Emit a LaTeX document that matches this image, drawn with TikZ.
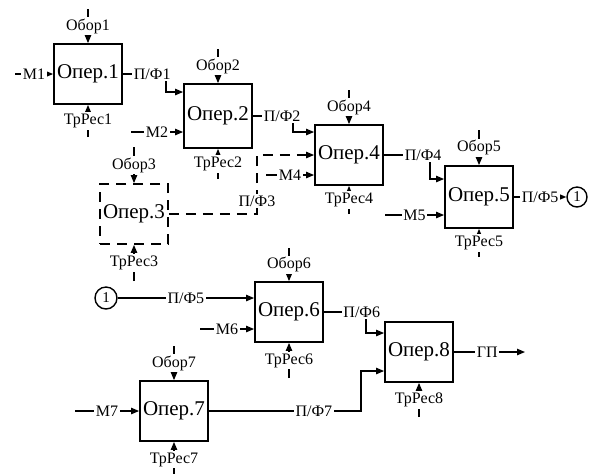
\documentclass[tikz,border=0pt]{standalone}
\usepackage{fontspec}
\setmainfont{Liberation Serif}
\usetikzlibrary{arrows.meta}

\begin{document}
\begin{tikzpicture}[x=0.5pt, y=-0.5pt, >={Triangle[length=4pt,width=3.2pt]},
    op/.style={draw, line width=0.9pt, minimum width=34pt, minimum height=30pt, inner sep=0pt, font=\fontsize{10.5}{12}\selectfont},
    lbl/.style={fill=white, inner sep=0.8pt, font=\fontsize{8}{9}\selectfont},
    link/.style={->, line width=0.6pt},
    joint/.style={circle, draw, line width=0.7pt, inner sep=0pt, minimum size=10pt, font=\fontsize{7.5}{8}\selectfont},
    dsh/.style={dash pattern=on 5pt off 3.5pt}]
    \useasboundingbox (0,0) rectangle (594,473);

    % 1. Operation boxes
    \node[op] (op1) at (88,74) {Опер.1};
    \node[op, minimum height=32pt] (op2) at (218,116) {Опер.2};
    \node[op, dsh] (op3) at (134,214) {Опер.3};
    \node[op] (op4) at (349,155) {Опер.4};
    \node[op, minimum height=31pt] (op5) at (479,197) {Опер.5};
    \node[op] (op6) at (289,312) {Опер.6};
    \node[op] (op7) at (174,411) {Опер.7};
    \node[op] (op8) at (419,352) {Опер.8};

    % 2. Equipment (top inputs)
    \coordinate (ob1) at (88,9);
    \coordinate (ob2) at (218,49);
    \coordinate (ob3) at (134,147);
    \coordinate (ob4) at (349,90);
    \coordinate (ob5) at (479,130);
    \coordinate (ob6) at (289,248);
    \coordinate (ob7) at (174,346);
    \draw[link] (ob1) -- node[lbl]{Обор1} (op1);
    \draw[link] (ob2) -- node[lbl]{Обор2} (op2);
    \draw[link] (ob3) -- node[lbl]{Обор3} (op3);
    \draw[link] (ob4) -- node[lbl]{Обор4} (op4);
    \draw[link] (ob5) -- node[lbl]{Обор5} (op5);
    \draw[link] (ob6) -- node[lbl]{Обор6} (op6);
    \draw[link] (ob7) -- node[lbl]{Обор7} (op7);

    % 3. Transport resources (bottom inputs)
    \coordinate (tr1) at (88,137);
    \coordinate (tr2) at (218,179);
    \coordinate (tr3) at (134,281);
    \coordinate (tr4) at (349,214);
    \coordinate (tr5) at (479,257);
    \coordinate (tr6) at (289,378);
    \coordinate (tr7) at (174,477);
    \coordinate (tr8) at (419,417);
    \draw[link] (tr1) -- node[lbl]{ТрРес1} (op1);
    \draw[link] (tr2) -- node[lbl]{ТрРес2} (op2);
    \draw[link] (tr3) -- node[lbl]{ТрРес3} (op3);
    \draw[link] (tr4) -- node[lbl]{ТрРес4} (op4);
    \draw[link] (tr5) -- node[lbl]{ТрРес5} (op5);
    \draw[link] (tr6) -- node[lbl]{ТрРес6} (op6);
    \draw[link] (tr7) -- node[lbl]{ТрРес7} (op7);
    \draw[link] (tr8) -- node[lbl]{ТрРес8} (op8);

    % 4. Materials
    \coordinate (m1) at (15,74);
    \coordinate (m2) at (131,132);
    \coordinate (m4) at (266,175);
    \coordinate (m5) at (385,215);
    \coordinate (m6) at (200,329);
    \coordinate (m7) at (75,411);
    \draw[link] (m1) -- node[lbl]{М1} (op1);
    \draw[link] (m2) -- node[lbl]{М2} (m2 -| op2.west);
    \draw[link] (m4) -- node[lbl]{М4} (m4 -| op4.west);
    \draw[link] (m5) -- node[lbl]{М5} (m5 -| op5.west);
    \draw[link] (m6) -- node[lbl]{М6} (m6 -| op6.west);
    \draw[link] (m7) -- node[lbl]{М7} (op7);

    % 5. Semi-finished product flows
    \coordinate (k1) at (166,74);
    \coordinate (k2) at (293,116);
    \coordinate (k3a) at (257,214);
    \coordinate (k3b) at (257,155);
    \coordinate (k4) at (430,155);
    \coordinate (k6) at (366,312);
    \coordinate (k7) at (361,411);
    \draw[link] (op1) -- node[lbl, pos=.68]{П/Ф1} (k1) |- ([yshift=12pt]op2.west);
    \draw[link] (op2) -- node[lbl, pos=.73]{П/Ф2} (k2) |- ([yshift=11.5pt]op4.west);
    \draw[link, dsh] (op3) -- (k3a) -- node[lbl, pos=.22]{П/Ф3} (k3b) -- (op4);
    \draw[link] (op4) -- node[lbl, pos=.85]{П/Ф4} (k4) |- ([yshift=9pt]op5.west);

    % 6. Connector "1" between the two rows
    \node[joint] (c1) at (577,197) {1};
    \node[joint, minimum size=11pt] (c2) at (106,298) {1};
    \draw[link] (op5) -- node[lbl]{П/Ф5} (c1);
    \draw[link] (c2) -- node[lbl]{П/Ф5} ([yshift=7pt]op6.west);

    \draw[link] (op6) -- node[lbl, pos=.9]{П/Ф6} (k6) |- ([yshift=9.5pt]op8.west);
    \draw[link] (op7) -- node[lbl, pos=.69]{П/Ф7} (k7) |- ([yshift=-9.5pt]op8.west);

    % 7. Finished product
    \coordinate (gp) at (525,352);
    \draw[link] (op8) -- node[lbl, pos=.47]{ГП} (gp);

\end{tikzpicture}
\end{document}
